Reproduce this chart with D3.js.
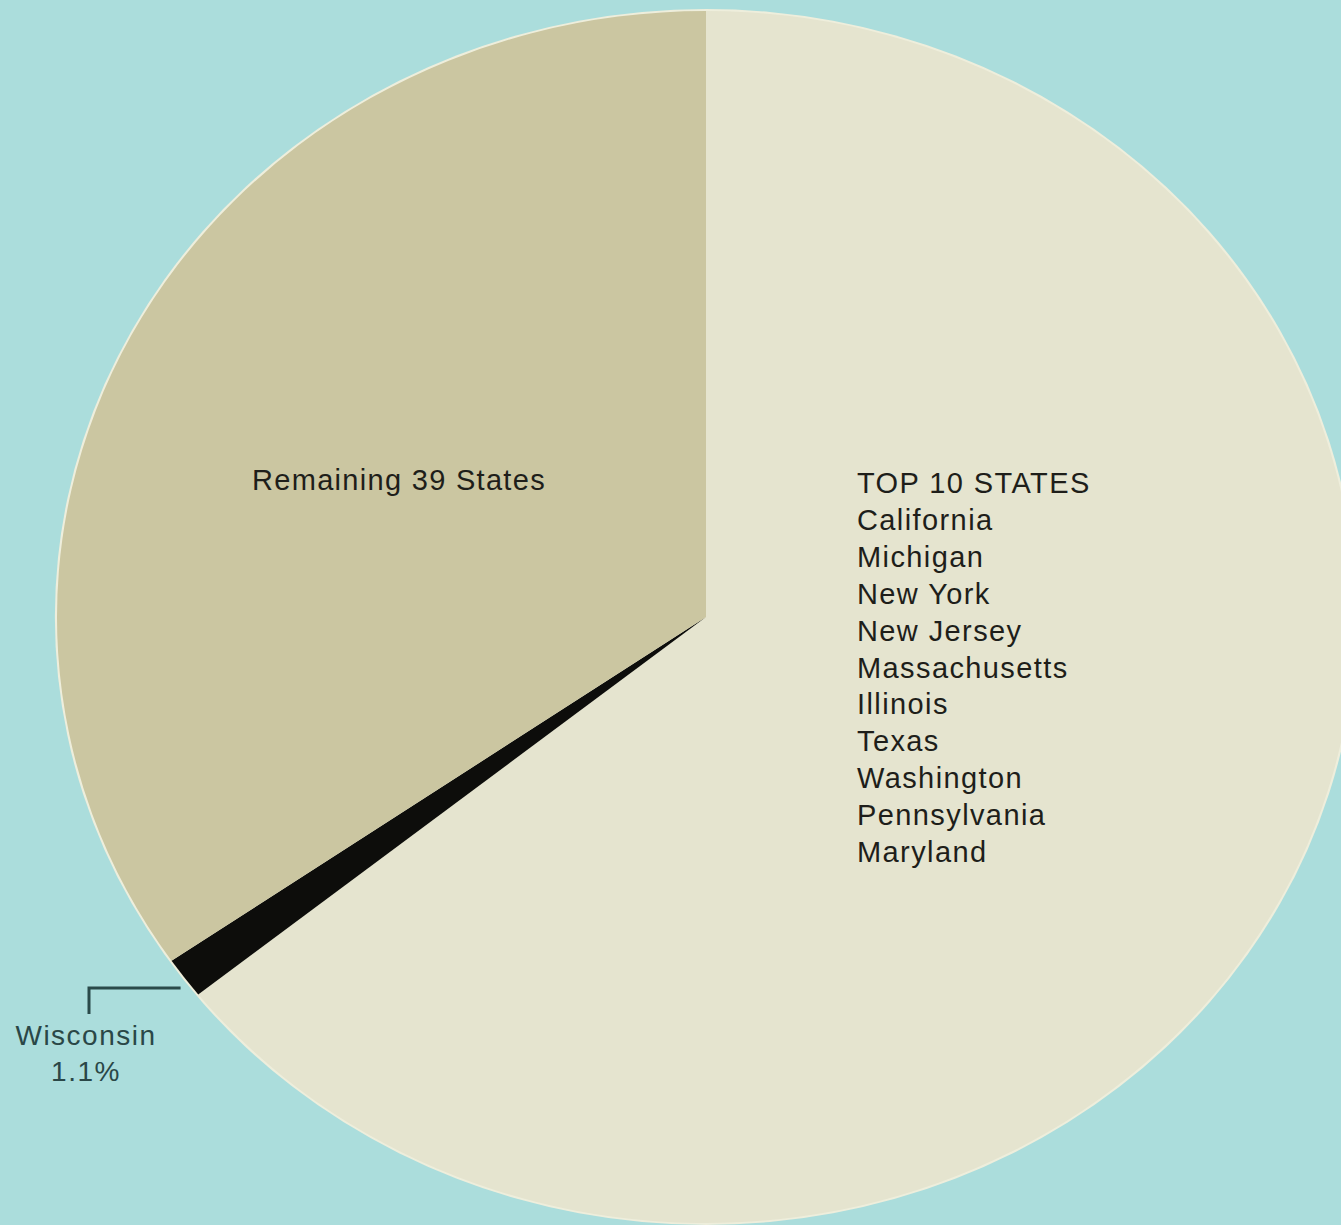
<!DOCTYPE html>
<html>
<head>
<meta charset="utf-8">
<script src="https://cdn.jsdelivr.net/npm/d3@7"></script>
<style>
  body { margin: 0; background: #abdddc; }
  svg { display: block; font-family: "Liberation Sans", Arial, Helvetica, sans-serif; }
</style>
</head>
<body>
<script>
// slice data, clockwise from 12 o'clock
var sliceNames = ["Top 10 States", "Wisconsin", "Remaining 39 States"];
var sliceValues = [64.3, 1.1, 34.6];
var sliceColors = ["#e5e4cf", "#0d0d0b", "#cbc6a1"];

var topStates = ["TOP 10 STATES", "California", "Michigan", "New York", "New Jersey",
  "Massachusetts", "Illinois", "Texas", "Washington", "Pennsylvania", "Maryland"];

var width = 1341, height = 1225;
var cx = 706, cy = 617;
var ry = 606, rx = 649;  // the pie is a little wider than tall

var svg = d3.select("body").append("svg")
  .attr("width", width)
  .attr("height", height);

svg.append("rect")
  .attr("width", width).attr("height", height)
  .attr("fill", "#abdddc");

var pie = d3.pie().sort(null).value(function(d) { return d; });
var arc = d3.arc().innerRadius(0).outerRadius(ry);

var g = svg.append("g")
  .attr("transform", "translate(" + cx + "," + cy + ") scale(" + (rx / ry) + ",1)");

// light rim around the pie
g.append("ellipse")
  .attr("rx", ry + 2).attr("ry", ry + 2)
  .attr("fill", "#eeeedc");

g.selectAll(".slice")
  .data(pie(sliceValues))
  .enter().append("path")
  .attr("class", "slice")
  .attr("d", arc)
  .attr("fill", function(d, i) { return sliceColors[i]; });

// labels
svg.append("text")
  .attr("x", 399).attr("y", 490)
  .attr("text-anchor", "middle")
  .attr("font-size", 29)
  .attr("letter-spacing", 1.3)
  .attr("fill", "#1e1e1a")
  .text("Remaining 39 States");

svg.append("g")
  .selectAll("text")
  .data(topStates)
  .enter().append("text")
  .attr("x", 857)
  .attr("y", function(d, i) { return 493 + i * 36.9; })
  .attr("font-size", 29)
  .attr("letter-spacing", 1.4)
  .attr("fill", "#1e1e1a")
  .text(function(d) { return d; });

// Wisconsin call-out, anchored on the black slice
var wis = pie(sliceValues)[1];
var mid = (wis.startAngle + wis.endAngle) / 2;
var edgeX = cx + Math.sin(mid) * rx;

svg.append("path")
  .attr("d", "M" + (edgeX - 4) + ",988H89V1014")
  .attr("fill", "none")
  .attr("stroke", "#2a4a4a")
  .attr("stroke-width", 3);

svg.append("text")
  .attr("x", 86).attr("y", 1045)
  .attr("text-anchor", "middle")
  .attr("font-size", 28)
  .attr("letter-spacing", 1.5)
  .attr("fill", "#2a4747")
  .text("Wisconsin");

svg.append("text")
  .attr("x", 86).attr("y", 1081)
  .attr("text-anchor", "middle")
  .attr("font-size", 28)
  .attr("letter-spacing", 1.5)
  .attr("fill", "#2a4747")
  .text(sliceValues[1] + "%");
</script>
</body>
</html>
